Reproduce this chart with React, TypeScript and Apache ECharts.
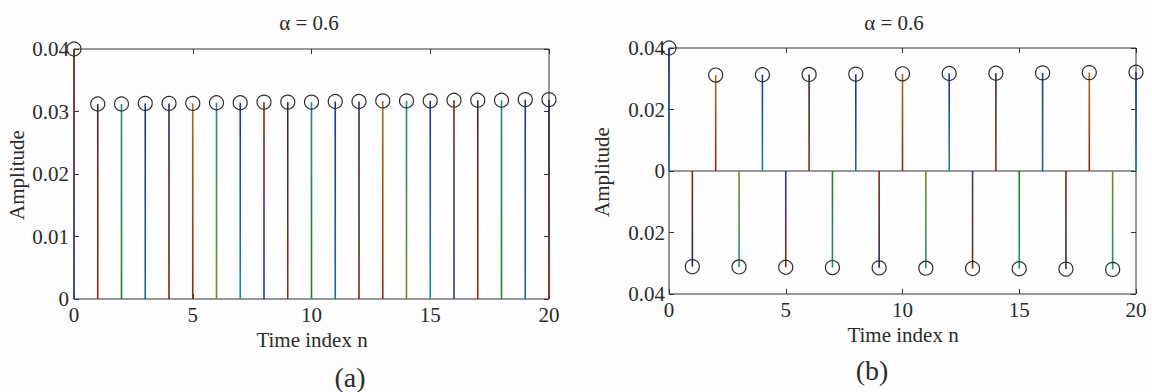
import React, { useEffect, useRef } from "react";
import * as echarts from "echarts";

const timeIndex = [0, 1, 2, 3, 4, 5, 6, 7, 8, 9, 10, 11, 12, 13, 14, 15, 16, 17, 18, 19, 20];
const ampA = [0.04, 0.0312, 0.0312, 0.0313, 0.0313, 0.0313, 0.0314, 0.0314, 0.0315, 0.0315, 0.0315, 0.0316, 0.0316, 0.0317, 0.0317, 0.0317, 0.0318, 0.0318, 0.0318, 0.0319, 0.0319];
const ampB = [0.04, -0.0311, 0.0312, -0.0312, 0.0313, -0.0313, 0.0314, -0.0314, 0.0315, -0.0315, 0.0316, -0.0316, 0.0317, -0.0317, 0.0318, -0.0318, 0.0319, -0.0319, 0.032, -0.032, 0.0321];
const xTicks = [0, 5, 10, 15, 20];
const titleText = "α = 0.6";
const xName = "Time index n";
const yName = "Amplitude";
const panelLabels = ["(a)", "(b)"];

const stemPalette = [
  ["#7a2a14", "#2b3a9a"],
  ["#3a2a30", "#8a3018"],
  ["#1f8a84", "#2f7a2a"],
  ["#23308c", "#1a6a9a"],
  ["#2a2a50", "#7a2a14"],
  ["#a0701a", "#8a2a14"],
  ["#1f8c86", "#7a8a1a"],
  ["#2030a0", "#1a8a9a"],
];

const FONT = "Liberation Serif";
const TXT = "#2b2b2b";
const FS = 21;

function makeStemSeries(data: number[], idx: number) {
  return {
    type: "custom",
    xAxisIndex: idx * 2,
    yAxisIndex: idx * 2,
    clip: false,
    data: timeIndex.map((t, i) => [t, data[i]]),
    renderItem: (params: any, api: any) => {
      const x = api.value(0);
      const y = api.value(1);
      const p0 = api.coord([x, 0]);
      const p1 = api.coord([x, y]);
      const top = Math.min(p0[1], p1[1]);
      const h = Math.abs(p0[1] - p1[1]);
      const pal = stemPalette[(params.dataIndex + idx * 3) % stemPalette.length];
      const stops = y >= 0
        ? [{ offset: 0, color: pal[0] }, { offset: 1, color: pal[1] }]
        : [{ offset: 0, color: pal[1] }, { offset: 1, color: pal[0] }];
      return {
        type: "group",
        children: [
          {
            type: "rect",
            shape: { x: p0[0] - 0.8, y: top, width: 1.6, height: h },
            style: { fill: new echarts.graphic.LinearGradient(0, 0, 0, 1, stops) },
          },
          {
            type: "circle",
            shape: { cx: p1[0], cy: p1[1], r: 7 },
            style: { fill: "none", stroke: "#2e2e2e", lineWidth: 1.2 },
          },
        ],
      };
    },
  };
}

function axisPair(gridIndex: number, fmt: (v: number) => string, yMin: number, yMax: number, yInt: number, xMargin: number, yMargin: number) {
  const tick = { show: true, inside: true, length: 5, lineStyle: { color: "#333" } };
  const xAxes = [
    {
      type: "value", gridIndex, min: 0, max: 20, interval: 5, position: "bottom",
      axisLine: { show: false, onZero: false }, axisTick: tick, splitLine: { show: false },
      axisLabel: { fontFamily: FONT, fontSize: FS, color: TXT, margin: xMargin, lineHeight: 20 },
    },
    {
      type: "value", gridIndex, min: 0, max: 20, interval: 5, position: "top",
      axisLine: { show: false, onZero: false }, axisTick: tick, splitLine: { show: false },
      axisLabel: { show: false },
    },
  ];
  const yAxes = [
    {
      type: "value", gridIndex, min: yMin, max: yMax, interval: yInt, position: "left",
      axisLine: { show: false, onZero: false }, axisTick: tick, splitLine: { show: false },
      axisLabel: { fontFamily: FONT, fontSize: FS, color: TXT, margin: yMargin, formatter: fmt },
    },
    {
      type: "value", gridIndex, min: yMin, max: yMax, interval: yInt, position: "right",
      axisLine: { show: false, onZero: false }, axisTick: tick, splitLine: { show: false },
      axisLabel: { show: false },
    },
  ];
  return { xAxes, yAxes };
}

export default function App() {
  const ref = useRef<HTMLDivElement>(null);
  useEffect(() => {
    if (!ref.current) return;
    const chart = echarts.init(ref.current, null, { renderer: "svg" });
    const fmtA = (v: number) => (v === 0 ? "0" : v.toFixed(2));
    const fmtB = (v: number) => (Math.abs(v) < 1e-9 ? "0" : Math.abs(v).toFixed(2));
    const a = axisPair(0, fmtA, 0, 0.04, 0.01, 6, 5);
    const b = axisPair(1, fmtB, -0.04, 0.04, 0.02, 6, 4);
    const textStyle = { fontFamily: FONT, fontSize: FS, fill: TXT };
    chart.setOption({
      animation: false,
      backgroundColor: "#fdfdfd",
      grid: [
        { left: 74, right: 603, top: 49, bottom: 93, show: true, borderColor: "#333", borderWidth: 1, backgroundColor: "transparent" },
        { left: 669, right: 16, top: 48, bottom: 98, show: true, borderColor: "#333", borderWidth: 1, backgroundColor: "transparent" },
      ],
      xAxis: [...a.xAxes, ...b.xAxes],
      yAxis: [...a.yAxes, ...b.yAxes],
      series: [
        makeStemSeries(ampA, 0),
        {
          type: "line", xAxisIndex: 2, yAxisIndex: 2, symbol: "none", silent: true,
          data: [[xTicks[0], 0], [xTicks[xTicks.length - 1], 0]],
          lineStyle: { color: "#333", width: 1 }, z: 1,
        },
        makeStemSeries(ampB, 1),
      ],
      graphic: [
        { type: "text", x: 309, y: 23, style: { ...textStyle, text: titleText, align: "center", verticalAlign: "middle" } },
        { type: "text", x: 894, y: 23, style: { ...textStyle, text: titleText, align: "center", verticalAlign: "middle" } },
        { type: "text", x: 312, y: 340, style: { ...textStyle, text: xName, align: "center", verticalAlign: "middle", lineHeight: 20 } },
        { type: "text", x: 903, y: 335, style: { ...textStyle, text: xName, align: "center", verticalAlign: "middle", lineHeight: 20 } },
        { type: "text", x: 17, y: 175, rotation: Math.PI / 2, style: { ...textStyle, text: yName, align: "center", verticalAlign: "middle" } },
        { type: "text", x: 602, y: 172, rotation: Math.PI / 2, style: { ...textStyle, text: yName, align: "center", verticalAlign: "middle" } },
        { type: "text", x: 350, y: 377, style: { ...textStyle, fontSize: 28, text: panelLabels[0], align: "center", verticalAlign: "middle" } },
        { type: "text", x: 872, y: 370, style: { ...textStyle, fontSize: 28, text: panelLabels[1], align: "center", verticalAlign: "middle" } },
      ],
    });
    return () => chart.dispose();
  }, []);
  return <div ref={ref} style={{ position: "fixed", left: 0, top: 0, width: 1152, height: 392 }} />;
}
